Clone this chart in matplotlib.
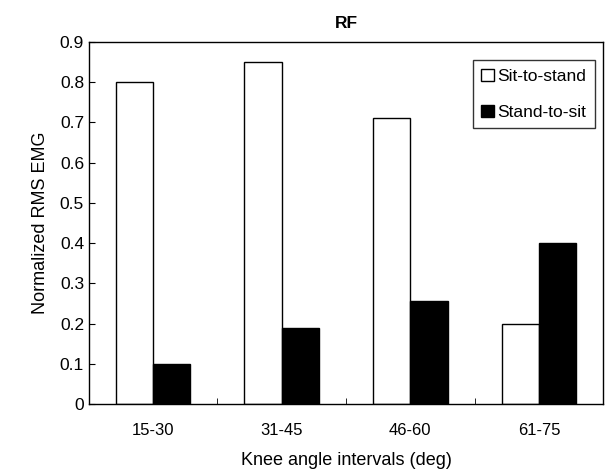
import matplotlib
matplotlib.use("Agg")
import matplotlib.pyplot as plt
import numpy as np

CATEGORIES = ["15-30", "31-45", "46-60", "61-75"]
SIT_TO_STAND = [0.80, 0.85, 0.71, 0.20]
STAND_TO_SIT = [0.10, 0.19, 0.255, 0.40]

plt.rcParams["font.family"] = ["Liberation Sans", "DejaVu Sans"]

fig = plt.figure(figsize=(6.13, 4.72), dpi=100)
ax = fig.add_axes([0.145, 0.144, 0.839, 0.767])

x = np.arange(len(CATEGORIES))
width = 0.29
ax.bar(x - width / 2, SIT_TO_STAND, width, color="white", edgecolor="black",
       linewidth=1.0, label="Sit-to-stand")
ax.bar(x + width / 2, STAND_TO_SIT, width, color="black", edgecolor="black",
       linewidth=1.0, label="Stand-to-sit")

ax.set_xlim(-0.5, len(CATEGORIES) - 0.5)
ax.set_ylim(0, 0.9)
ax.set_yticks(np.arange(0, 0.91, 0.1))
ax.set_yticklabels(["0"] + [f"{v:.1f}" for v in np.arange(0.1, 0.91, 0.1)])
ax.set_xticks(x)
ax.set_xticklabels(CATEGORIES)
ax.tick_params(axis="x", length=0, labelsize=12, pad=14)
ax.tick_params(axis="y", direction="in", length=4, labelsize=12.5)
ax.set_xticks(np.arange(0.5, len(CATEGORIES) - 0.5, 1), minor=True)
ax.tick_params(axis="x", which="minor", direction="in", length=4)
for side in ax.spines.values():
    side.set_linewidth(1.0)

ax.set_xlabel("Knee angle intervals (deg)", fontsize=13, labelpad=10)
ax.set_ylabel("Normalized RMS EMG", fontsize=13, labelpad=8)
ax.set_title("RF", fontsize=12.5, fontweight="bold", pad=10)

legend = ax.legend(loc="upper right", bbox_to_anchor=(0.99, 0.96), fontsize=12.5,
                   frameon=True, fancybox=False, edgecolor="black",
                   handlelength=0.7, handleheight=0.7, handletextpad=0.2,
                   borderpad=0.5, labelspacing=1.2, borderaxespad=0.2)
legend.get_frame().set_linewidth(1.0)

fig.savefig("out.png", dpi=100)
